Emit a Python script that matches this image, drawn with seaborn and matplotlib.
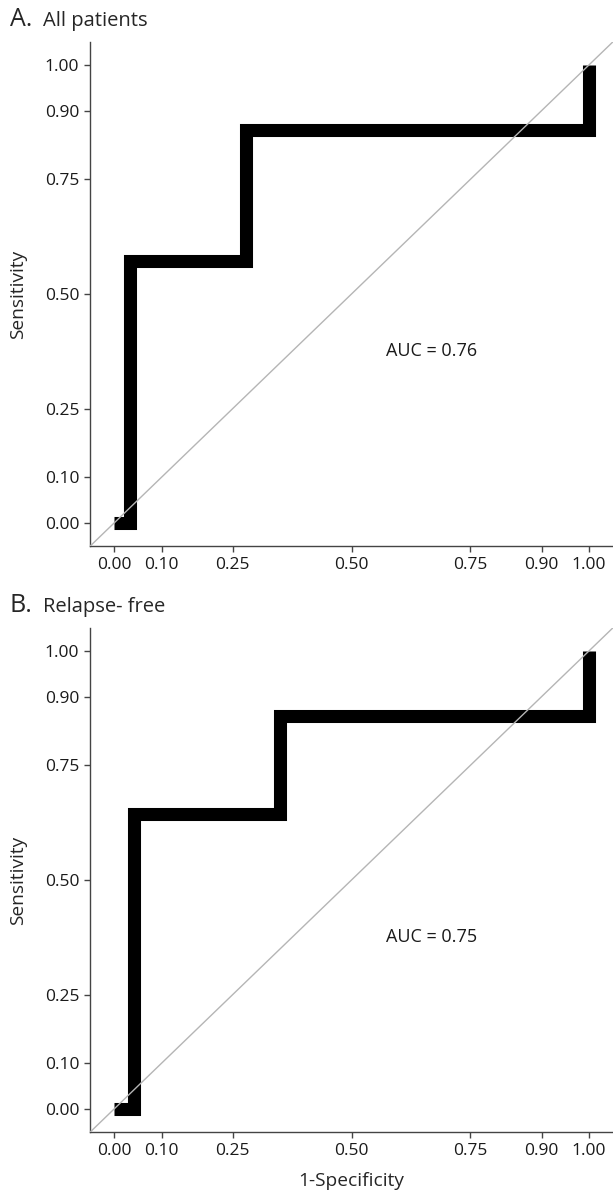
import numpy as np
import pandas as pd
import matplotlib.pyplot as plt
import seaborn as sns

# ROC step points
fpr_all = [0.0, 0.033, 0.033, 0.278, 0.278, 1.0, 1.0]
tpr_all = [0.0, 0.0, 0.571, 0.571, 0.857, 0.857, 1.0]
auc_all = "AUC = 0.76"

fpr_free = [0.0, 0.042, 0.042, 0.349, 0.349, 1.0, 1.0]
tpr_free = [0.0, 0.0, 0.643, 0.643, 0.857, 0.857, 1.0]
auc_free = "AUC = 0.75"

ticks = [0.0, 0.10, 0.25, 0.50, 0.75, 0.90, 1.00]
tick_labels = ["0.00", "0.10", "0.25", "0.50", "0.75", "0.90", "1.00"]

sns.set_style("ticks")
plt.rcParams["font.family"] = ["Open Sans", "DejaVu Sans"]

W, H = 613, 1193
fig = plt.figure(figsize=(W / 100, H / 100), dpi=100)

spine_col = "#444444"


def panel(bottom_px, fpr, tpr, auc, letter, title, xlabel):
    left = 90.25 / W
    width = 522.5 / W
    height = 504 / H
    ax = fig.add_axes([left, 1 - bottom_px / H, width, height])
    df = pd.DataFrame({"fpr": fpr, "tpr": tpr})
    sns.lineplot(data=df, x="fpr", y="tpr", sort=False, estimator=None,
                 color="black", linewidth=9.4, ax=ax,
                 solid_joinstyle="miter", solid_capstyle="butt")
    ax.plot([-0.05, 1.05], [-0.05, 1.05], color="#b5b5b5", linewidth=1.0, zorder=5)
    ax.set_xlim(-0.05, 1.05)
    ax.set_ylim(-0.05, 1.05)
    ax.set_xticks(ticks)
    ax.set_xticklabels(tick_labels)
    ax.set_yticks(ticks)
    ax.set_yticklabels(tick_labels)
    ax.tick_params(length=4, width=1, color=spine_col, labelsize=12.5,
                   labelcolor="#1a1a1a", pad=4)
    for s in ["top", "right"]:
        ax.spines[s].set_visible(False)
    for s in ["left", "bottom"]:
        ax.spines[s].set_color(spine_col)
        ax.spines[s].set_linewidth(1.0)
    ax.set_ylabel("Sensitivity", fontsize=13.8)
    ax.yaxis.set_label_coords(-0.121, 0.5)
    ax.set_xlabel(xlabel, fontsize=13.8)
    ax.xaxis.set_label_coords(0.5, -0.079)
    ax.text(0.669, 0.375, auc, fontsize=13, ha="center", va="center",
            color="#1a1a1a")
    top_px = bottom_px - 504
    fig.text(10 / W, 1 - (top_px - 22) / H, letter, fontsize=18,
             ha="left", va="center")
    fig.text(43 / W, 1 - (top_px - 21) / H, title, fontsize=14.5,
             ha="left", va="center")
    return ax


panel(546, fpr_all, tpr_all, auc_all, "A.", "All patients", "")
panel(1132, fpr_free, tpr_free, auc_free, "B.", "Relapse- free", "1-Specificity")

fig.savefig("out.png", dpi=100)
